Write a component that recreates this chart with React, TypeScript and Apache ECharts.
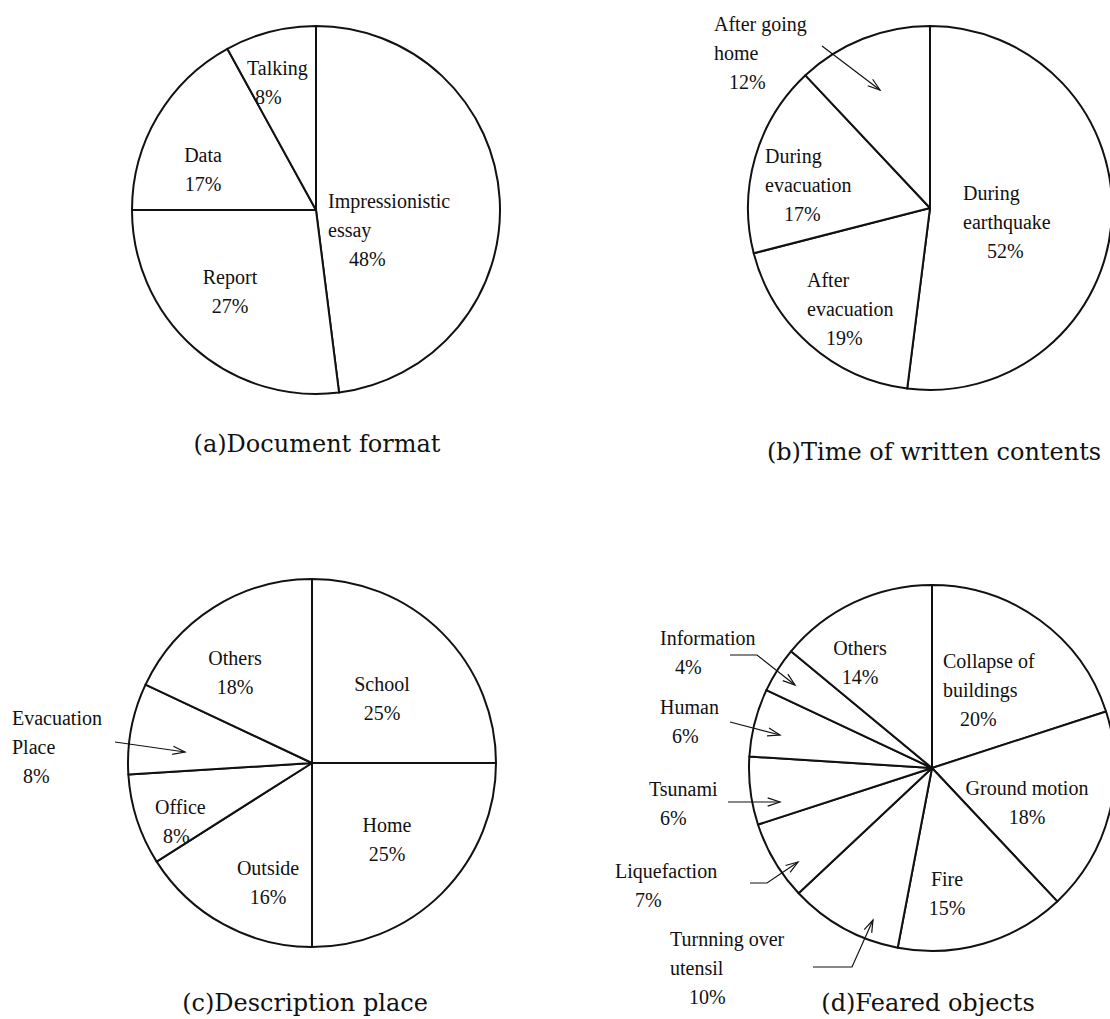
import React, { useEffect, useRef } from 'react';
import * as echarts from 'echarts';

// ---------- data ----------
const formatNames = ['Impressionistic\nessay', 'Report', 'Data', 'Talking'];
const formatValues = [48, 27, 17, 8];

const timeNames = ['During\nearthquake', 'After\nevacuation', 'During\nevacuation', 'After going\nhome'];
const timeValues = [52, 19, 17, 12];

const placeNames = ['School', 'Home', 'Outside', 'Office', 'Evacuation\nPlace', 'Others'];
const placeValues = [25, 25, 16, 8, 8, 18];

const fearNames = [
  'Collapse of\nbuildings', 'Ground motion', 'Fire', 'Turnning over\nutensil',
  'Liquefaction', 'Tsunami', 'Human', 'Information', 'Others',
];
const fearValues = [20, 18, 15, 10, 7, 6, 6, 4, 14];

const captions = ['(a)Document format', '(b)Time of written contents', '(c)Description place', '(d)Feared objects'];

// ---------- layout (positions, not data) ----------
const pies = [
  { center: [316, 210], r: 184 },
  { center: [930, 208], r: 182 },
  { center: [312, 763], r: 184 },
  { center: [932, 768], r: 183 },
];
const captionPos = [[317, 444], [934, 452], [305, 1003], [928, 1003]];

// [x, y, align, percentIndent]
type LP = [number, number, 'left' | 'center', number];
const labelPos: LP[][] = [
  [[328, 230, 'left', 21], [230, 291, 'center', 0], [203, 169, 'center', 0], [247, 82, 'left', 8]],
  [[963, 222, 'left', 24], [807, 309, 'left', 19], [765, 185, 'left', 19], [714, 53, 'left', 15]],
  [[382, 698, 'center', 0], [387, 839, 'center', 0], [268, 882, 'center', 0], [155, 821, 'left', 8], [12, 747, 'left', 11], [235, 672, 'center', 0]],
  [[943, 690, 'left', 17], [1027, 802, 'center', 0], [947, 893, 'center', 0], [670, 968, 'left', 19], [615, 885, 'left', 20],
   [649, 803, 'left', 11], [660, 721, 'left', 12], [660, 652, 'left', 15], [860, 662, 'center', 0]],
];

const arrows: number[][][] = [
  [[822, 46], [880, 90]],
  [[115, 742], [185, 752]],
  [[730, 655], [757, 655], [795, 685]],
  [[730, 722], [780, 735]],
  [[728, 802], [780, 802]],
  [[750, 883], [767, 883], [798, 862]],
  [[813, 967], [852, 967], [873, 920]],
];

const LABEL_FONT = 'Liberation Serif';
const CAPTION_FONT = 'DejaVu Serif';
const INK = '#111';

function arrowHead(p1: number[], p2: number[], len = 13, ang = 0.32) {
  const a = Math.atan2(p2[1] - p1[1], p2[0] - p1[0]);
  return [
    [p2[0] - len * Math.cos(a - ang), p2[1] - len * Math.sin(a - ang)],
    [p2[0], p2[1]],
    [p2[0] - len * Math.cos(a + ang), p2[1] - len * Math.sin(a + ang)],
  ];
}

function buildSeries(names: string[], values: number[], idx: number) {
  const lp = labelPos[idx];
  return {
    type: 'pie',
    silent: true,
    z: 2,
    center: pies[idx].center,
    radius: [0, pies[idx].r],
    startAngle: 90,
    clockwise: true,
    avoidLabelOverlap: false,
    minShowLabelAngle: 0,
    itemStyle: { color: '#fff', borderColor: INK, borderWidth: 2 },
    labelLine: { show: false },
    label: {
      show: true,
      position: 'inside',
      fontFamily: LABEL_FONT,
      fontSize: 20,
      color: INK,
      lineHeight: 29,
      formatter: (p: any) => {
        const lines = String(p.name).split('\n').map((s: string) => `{n|${s}}`).join('\n');
        return `${lines}\n{p|${p.value}%}`;
      },
    },
    labelLayout: (params: any) => {
      const l = lp[params.dataIndex];
      return { x: l[0], y: l[1], align: l[2], verticalAlign: 'middle' };
    },
    data: names.map((n, i) => ({
      name: n,
      value: values[i],
      label: {
        fontFamily: LABEL_FONT,
        rich: {
          n: { fontFamily: LABEL_FONT, fontSize: 20, color: INK, lineHeight: 29 },
          p: {
            fontFamily: LABEL_FONT, fontSize: 20, color: INK, lineHeight: 29,
            padding: [0, 0, 0, lp[i][2] === 'left' ? lp[i][3] : 0],
          },
        },
      },
    })),
  };
}

export default function App() {
  const ref = useRef<HTMLDivElement>(null);
  useEffect(() => {
    document.body.style.margin = '0';
    const chart = echarts.init(ref.current!, undefined, { renderer: 'svg' });
    const graphics: any[] = [];
    captions.forEach((c, i) => {
      graphics.push({
        type: 'text',
        z: 100,
        x: captionPos[i][0],
        y: captionPos[i][1],
        style: {
          text: c, fill: INK, fontFamily: CAPTION_FONT, fontSize: 24,
          textAlign: 'center', textVerticalAlign: 'middle',
        },
      });
    });
    arrows.forEach((pts) => {
      graphics.push({ type: 'polyline', z: 100, shape: { points: pts }, style: { stroke: INK, lineWidth: 1.2, fill: null } });
      graphics.push({
        type: 'polyline',
        z: 100,
        shape: { points: arrowHead(pts[pts.length - 2], pts[pts.length - 1]) },
        style: { stroke: INK, lineWidth: 1.2, fill: null },
      });
    });
    chart.setOption({
      animation: false,
      backgroundColor: '#fff',
      textStyle: { fontFamily: LABEL_FONT },
      series: [
        buildSeries(formatNames, formatValues, 0),
        buildSeries(timeNames, timeValues, 1),
        buildSeries(placeNames, placeValues, 2),
        buildSeries(fearNames, fearValues, 3),
      ],
      graphic: graphics,
    });
    return () => chart.dispose();
  }, []);
  return <div ref={ref} style={{ width: 1110, height: 1019 }} />;
}
